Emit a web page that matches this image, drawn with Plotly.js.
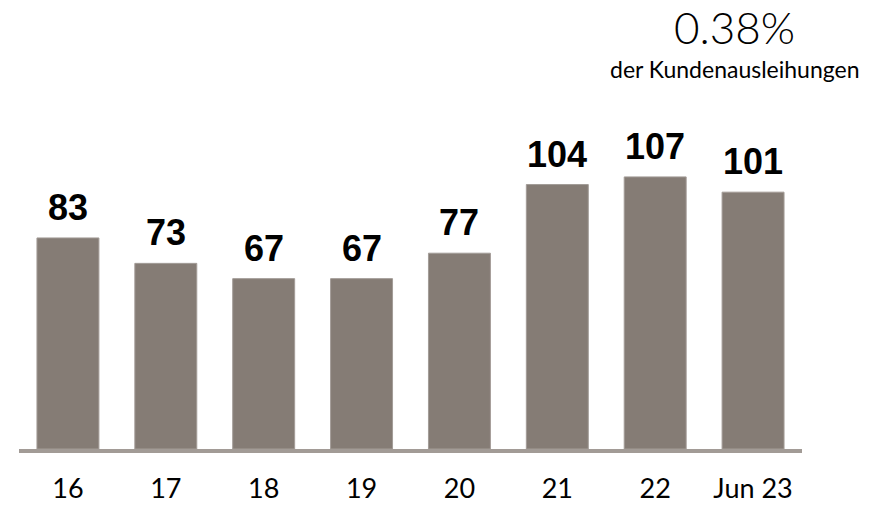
<!DOCTYPE html>
<html>
<head>
<meta charset="utf-8">
<script src="https://cdn.plot.ly/plotly-3.0.1.min.js"></script>
<style>html,body{margin:0;padding:0;background:#fff;}#chart{width:877px;height:506px;}</style>
</head>
<body>
<div id="chart"></div>
<script>
const categories = ["16", "17", "18", "19", "20", "21", "22", "Jun 23"];
const values = [83, 73, 67, 67, 77, 104, 107, 101];
const headline = "0.38%";
const subline = "der Kundenausleihungen";

const barColor = "#857c75";

const trace = {
  type: "bar",
  x: categories,
  y: values,
  marker: {color: barColor, line: {color: "#a39c97", width: 1}},
  hoverinfo: "none"
};

const labelAnnotations = categories.map((c, i) => ({
  x: i, y: values[i], xref: "x", yref: "y",
  text: String(values[i]),
  showarrow: false, yanchor: "bottom", yshift: 8,
  font: {family: "Liberation Sans, Arial, sans-serif", size: 36, color: "#000", weight: "bold"}
}));

const layout = {
  width: 877, height: 506,
  margin: {l: 19, r: 75, t: 93, b: 57},
  paper_bgcolor: "#fff", plot_bgcolor: "#fff",
  showlegend: false,
  bargap: 0.367,
  xaxis: {
    type: "category",
    range: [-0.5, 7.5],
    showline: true, linecolor: "#a29b96", linewidth: 4,
    showgrid: false, zeroline: false,
    ticks: "outside", ticklen: 13, tickcolor: "rgba(0,0,0,0)",
    tickfont: {family: "Lato, sans-serif", size: 27, color: "#000"},
    fixedrange: true
  },
  yaxis: {
    range: [0, 140],
    visible: false, showgrid: false, zeroline: false,
    fixedrange: true
  },
  annotations: labelAnnotations.concat([
    {x: 0.914, y: 1.185, xref: "paper", yref: "paper", xanchor: "center", yanchor: "middle",
     text: headline, showarrow: false,
     font: {family: "Lato, sans-serif", size: 44, color: "#000", weight: 300}},
    {x: 0.914, y: 1.068, xref: "paper", yref: "paper", xanchor: "center", yanchor: "middle",
     text: subline, showarrow: false,
     font: {family: "Lato, sans-serif", size: 23, color: "#000"}}
  ])
};

Plotly.newPlot("chart", [trace], layout, {displayModeBar: false, staticPlot: true});
</script>
</body>
</html>
